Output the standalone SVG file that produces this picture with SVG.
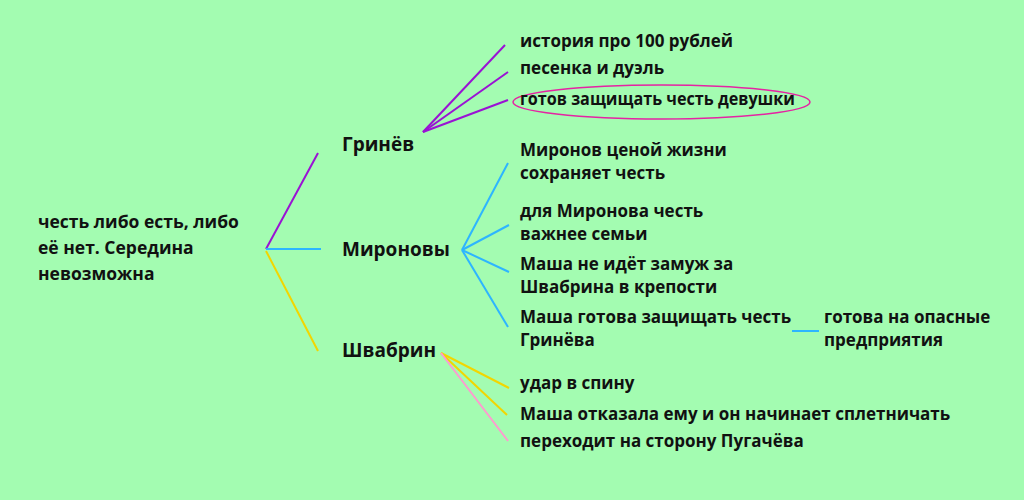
<svg xmlns="http://www.w3.org/2000/svg" width="1024" height="500" viewBox="0 0 1024 500">
<style>
text{font-family:"Open Sans","Liberation Sans",sans-serif;font-weight:700;fill:#111;}
.t{font-size:17px;}
.r{font-size:17.5px;}
.h{font-size:19px;}
.p{stroke:#9a12d4;stroke-width:2;fill:none;}
.b{stroke:#2db5ff;stroke-width:2;fill:none;}
.y{stroke:#f2d600;stroke-width:2;fill:none;}
.k{stroke:#ff9ad0;stroke-width:2;fill:none;}
</style>
<rect width="1024" height="500" fill="#a3fcb1"/>
<g id="connectors">
<line class="p" x1="266" y1="249" x2="318" y2="153"/>
<line class="b" x1="266" y1="249" x2="321" y2="249"/>
<line class="y" x1="266" y1="251" x2="318" y2="351"/>
<line class="p" x1="423" y1="132" x2="505" y2="45"/>
<line class="p" x1="423" y1="132" x2="508" y2="72"/>
<line class="p" x1="423" y1="132" x2="508" y2="100"/>
<line class="b" x1="462" y1="250" x2="508" y2="163"/>
<line class="b" x1="462" y1="250" x2="509" y2="225"/>
<line class="b" x1="462" y1="250" x2="509" y2="272"/>
<line class="b" x1="462" y1="250" x2="508" y2="327"/>
<line class="b" x1="792" y1="331" x2="819" y2="331"/>
<line class="y" x1="441" y1="353" x2="509" y2="388"/>
<line class="y" x1="441" y1="353" x2="507" y2="415"/>
<line class="k" x1="441" y1="353" x2="508" y2="441"/>
</g>
<g id="root"><text class="r"><tspan x="38" y="228">честь либо есть, либо</tspan><tspan x="38" y="254">её нет. Середина</tspan><tspan x="38" y="280">невозможна</tspan></text></g>
<g id="grinev"><text class="h" x="342" y="151">Гринёв</text></g>
<g id="mironovy"><text class="h" x="342" y="256">Мироновы</text></g>
<g id="shvabrin"><text class="h" x="342" y="357">Швабрин</text></g>
<g id="g1"><text class="t" x="520" y="47">история про 100 рублей</text></g>
<g id="g2"><text class="t" x="520" y="74">песенка и дуэль</text></g>
<g id="g3"><ellipse cx="661.5" cy="102" rx="148.5" ry="17" fill="none" stroke="#e523a3" stroke-width="1.5"/><text class="t" x="520" y="105" textLength="275" lengthAdjust="spacingAndGlyphs">готов защищать честь девушки</text></g>
<g id="m1"><text class="t"><tspan x="520" y="156">Миронов ценой жизни</tspan><tspan x="520" y="179">сохраняет честь</tspan></text></g>
<g id="m2"><text class="t"><tspan x="520" y="217">для Миронова честь</tspan><tspan x="520" y="240">важнее семьи</tspan></text></g>
<g id="m3"><text class="t"><tspan x="520" y="270">Маша не идёт замуж за</tspan><tspan x="520" y="293">Швабрина в крепости</tspan></text></g>
<g id="m4"><text class="t"><tspan x="520" y="323">Маша готова защищать честь</tspan><tspan x="520" y="346">Гринёва</tspan></text></g>
<g id="m4a"><text class="t"><tspan x="824" y="323">готова на опасные</tspan><tspan x="824" y="346">предприятия</tspan></text></g>
<g id="s1"><text class="t" x="520" y="389">удар в спину</text></g>
<g id="s2"><text class="t" x="520" y="420">Маша отказала ему и он начинает сплетничать</text></g>
<g id="s3"><text class="t" x="520" y="447">переходит на сторону Пугачёва</text></g>
</svg>
